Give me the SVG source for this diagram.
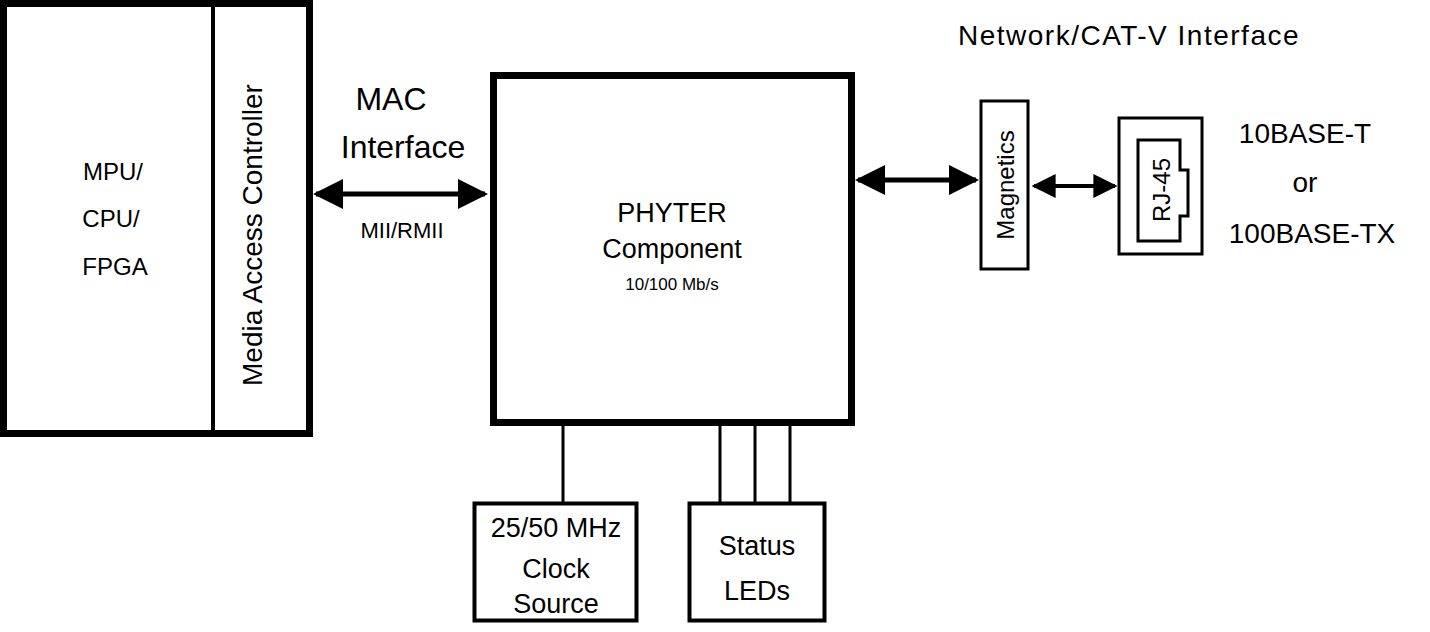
<svg xmlns="http://www.w3.org/2000/svg" width="1430" height="632" viewBox="0 0 1430 632">
<style>
text{font-family:"Liberation Sans",Arial,sans-serif;fill:#000;text-anchor:middle}
.b{fill:#fff;stroke:#000}
.l{stroke:#000;fill:none}
</style>
<defs>
<marker id="a" viewBox="0 0 10 10" refX="9" refY="5" markerWidth="6" markerHeight="6" markerUnits="strokeWidth" orient="auto-start-reverse"><path d="M0,0L10,5L0,10z" fill="#000"/></marker>
</defs>
<rect width="1430" height="632" fill="#fff"/>
<g id="host">
<rect class="b" x="3.5" y="3.5" width="306" height="430" stroke-width="7"/>
<line class="l" x1="213" y1="3" x2="213" y2="433" stroke-width="4"/>
<text x="113" y="180" font-size="24">MPU/</text>
<text x="111" y="227" font-size="24">CPU/</text>
<text x="115" y="275" font-size="24">FPGA</text>
<text transform="translate(262,235) rotate(-90)" font-size="28">Media Access Controller</text>
</g>
<g id="phyter">
<rect class="b" x="493.5" y="75.5" width="358" height="347" stroke-width="7"/>
<text x="672" y="222" font-size="27">PHYTER</text>
<text x="672" y="258" font-size="27">Component</text>
<text x="672" y="290" font-size="17">10/100 Mb/s</text>
</g>
<g id="magnetics">
<rect class="b" x="981" y="101" width="47" height="168" stroke-width="3"/>
<text transform="translate(1014,185) rotate(-90)" font-size="24">Magnetics</text>
</g>
<g id="rj45">
<rect class="b" x="1119" y="118" width="83" height="136" stroke-width="3"/>
<path class="l" d="M1138,140H1180V170H1188V216H1180V241H1138Z" stroke-width="3"/>
<text transform="translate(1170,190) rotate(-90)" font-size="24">RJ-45</text>
</g>
<g id="clock">
<rect class="b" x="474.5" y="503.5" width="162" height="117" stroke-width="4"/>
<text x="556" y="537" font-size="27">25/50 MHz</text>
<text x="556" y="578" font-size="27">Clock</text>
<text x="556" y="613" font-size="27">Source</text>
</g>
<g id="leds">
<rect class="b" x="689.5" y="503.5" width="135" height="117" stroke-width="4"/>
<text x="757" y="555" font-size="27">Status</text>
<text x="757" y="600" font-size="27">LEDs</text>
</g>
<g id="labels">
<text x="391" y="110" font-size="32">MAC</text>
<text x="403" y="158" font-size="32">Interface</text>
<text x="402" y="238" font-size="22">MII/RMII</text>
<text x="1129" y="45" font-size="28" letter-spacing="1.5">Network/CAT-V Interface</text>
<text x="1305" y="143" font-size="28">10BASE-T</text>
<text x="1305" y="192" font-size="28">or</text>
<text x="1312" y="243" font-size="28">100BASE-TX</text>
</g>
<g id="connectors">
<line class="l" x1="316" y1="194" x2="485" y2="194" stroke-width="5" marker-start="url(#a)" marker-end="url(#a)"/>
<line class="l" x1="858" y1="180" x2="976" y2="180" stroke-width="5" marker-start="url(#a)" marker-end="url(#a)"/>
<line class="l" x1="1034" y1="186" x2="1115" y2="186" stroke-width="4" marker-start="url(#a)" marker-end="url(#a)"/>
<line class="l" x1="563" y1="425" x2="563" y2="502" stroke-width="3"/>
<line class="l" x1="720" y1="425" x2="720" y2="502" stroke-width="3"/>
<line class="l" x1="755" y1="425" x2="755" y2="502" stroke-width="3"/>
<line class="l" x1="790" y1="425" x2="790" y2="502" stroke-width="3"/>
</g>
</svg>
